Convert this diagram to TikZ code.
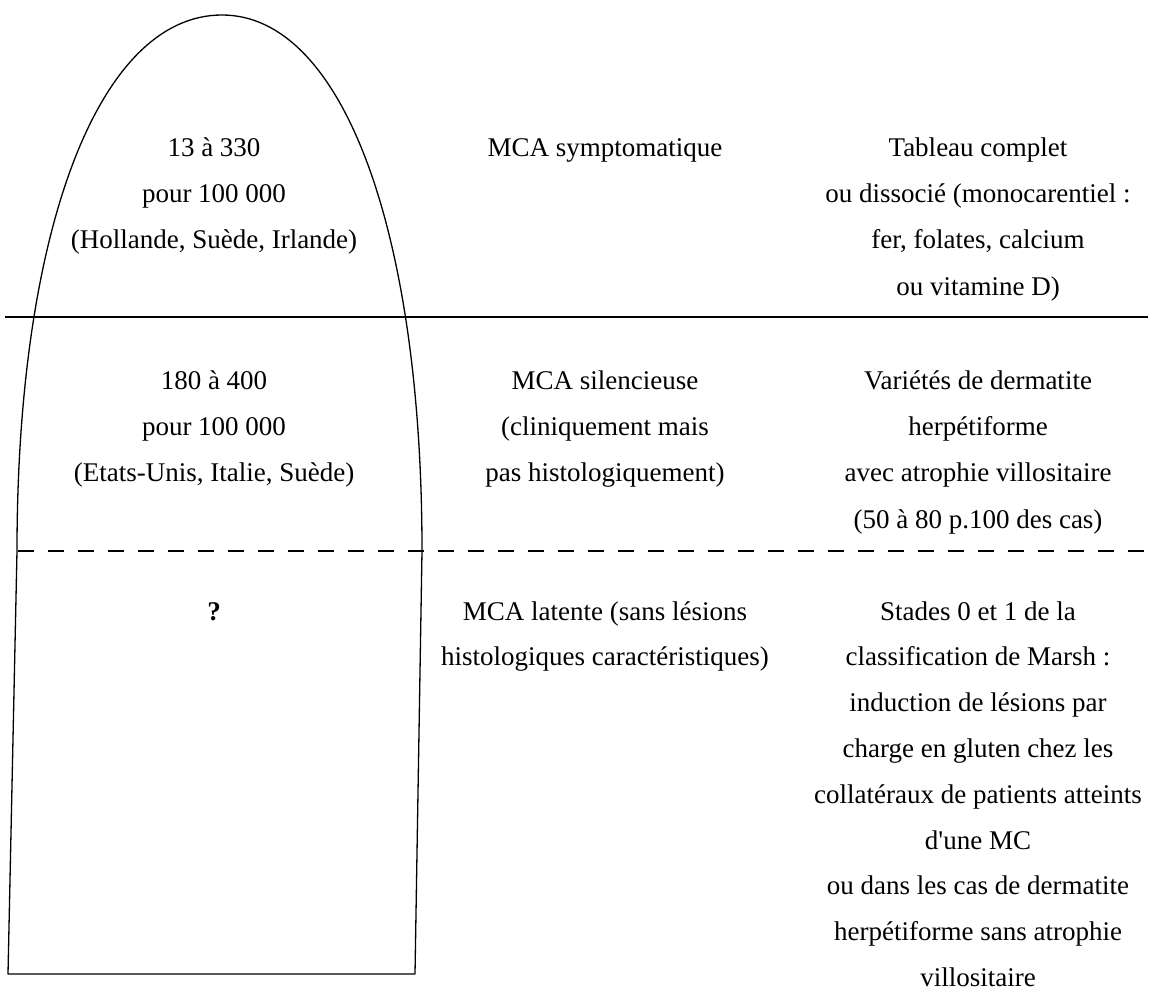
\documentclass[tikz,border=0pt]{standalone}
\usepackage{fontspec}
\setmainfont{Liberation Serif}
\begin{document}
\begin{tikzpicture}[x=1pt,y=-1pt,
  txt/.style={font=\fontsize{27}{32}\selectfont, inner sep=0pt, anchor=base},
  archline/.style={line width=1.3pt, line join=round},
  solidline/.style={line width=2pt},
  dashline/.style={line width=2pt, dash pattern=on 16pt off 14pt}]
\useasboundingbox (0,0) rectangle (1150,990);

% arch-shaped outline
\draw[archline] (8,974) -- (17,551) .. controls (17,229) and (99,15) .. (222,15)
  .. controls (342,15) and (422,229) .. (422,551) -- (415,974) -- cycle;

% separators
\coordinate (s1) at (5,317);
\coordinate (s2) at (1148,317);
\coordinate (d1) at (18,551);
\coordinate (d2) at (1148,551);
\draw[solidline] (s1) -- (s2);
\draw[dashline] (d1) -- (d2);

% column 1
\foreach \t [count=\i] in {{13 à 330}, {pour 100 000}, {(Hollande, Suède, Irlande)}}
  \node[txt] (a\i) at (214,{156+(\i-1)*46.4}) {\t};
\foreach \t [count=\i] in {{180 à 400}, {pour 100 000}, {(Etats-Unis, Italie, Suède)}}
  \node[txt] (b\i) at (214,{389+(\i-1)*46.4}) {\t};
\node[txt, font=\fontsize{27}{32}\selectfont\bfseries] (q) at (214,620) {?};

% column 2
\node[txt] (c1) at (605,156) {MCA symptomatique};
\foreach \t [count=\i] in {{MCA silencieuse}, {(cliniquement mais}, {pas histologiquement)}}
  \node[txt] (d\i) at (605,{389+(\i-1)*46.4}) {\t};
\foreach \t [count=\i] in {{MCA latente (sans lésions}, {histologiques caractéristiques)}}
  \node[txt] (e\i) at (605,{620+(\i-1)*45.8}) {\t};

% column 3
\foreach \t [count=\i] in {{Tableau complet}, {ou dissocié (monocarentiel :}, {fer, folates, calcium}, {ou vitamine D)}}
  \node[txt] (f\i) at (978,{156+(\i-1)*46.4}) {\t};
\foreach \t [count=\i] in {{Variétés de dermatite}, {herpétiforme}, {avec atrophie villositaire}, {(50 à 80 p.100 des cas)}}
  \node[txt] (g\i) at (978,{389+(\i-1)*46.4}) {\t};
\foreach \t [count=\i] in {{Stades 0 et 1 de la}, {classification de Marsh :}, {induction de lésions par},
    {charge en gluten chez les}, {collatéraux de patients atteints}, {d\textquotesingle une MC},
    {ou dans les cas de dermatite}, {herpétiforme sans atrophie}, {villositaire}}
  \node[txt] (h\i) at (978,{620+(\i-1)*45.8}) {\t};
\end{tikzpicture}
\end{document}
